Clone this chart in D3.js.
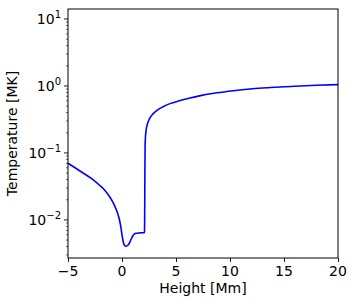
<!DOCTYPE html>
<html lang="en">
<head>
	<meta charset="UTF-8">
	<title>Temperature vs Height</title>
	<script src="https://cdnjs.cloudflare.com/ajax/libs/d3/7.8.5/d3.min.js"></script>
	<style>
		body { margin: 0; background: #fff; }
		svg { font-family: "DejaVu Sans", sans-serif; }
		.tick-label { font-size: 14px; fill: #000; }
		.axis-label { font-size: 14px; fill: #000; }
	</style>
</head>
<body>
	<div id="container"></div>
	<script>
		// height [Mm] and temperature [MK]
		var heights = [-5, -3.889, -2.778, -2.102, -1.62, -1.176, -0.833, -0.556, -0.37, -0.231, -0.093, 0.0, 0.12, 0.231, 0.37, 0.509, 0.676, 0.833, 0.991, 1.157, 1.296, 1.667, 2.065, 2.08, 2.1, 2.12, 2.14, 2.17, 2.22, 2.29, 2.4, 2.59, 2.85, 3.3, 3.8, 4.44, 5.3, 6.3, 7.5, 8.77, 10.3, 11.85, 13.4, 14.94, 16.5, 18.03, 20];
		var temps = [0.0701, 0.0538, 0.0409, 0.0332, 0.028, 0.0226, 0.0183, 0.01457, 0.01206, 0.00998, 0.00758, 0.00596, 0.00468, 0.00418, 0.00405, 0.00415, 0.00448, 0.0051, 0.00576, 0.00617, 0.00632, 0.0064, 0.00645, 0.0066, 0.012, 0.05, 0.13, 0.17, 0.21, 0.247, 0.285, 0.335, 0.38, 0.44, 0.49, 0.545, 0.6, 0.66, 0.73, 0.79, 0.85, 0.902, 0.94, 0.976, 1.0, 1.024, 1.047];

		var xTicks = [-5, 0, 5, 10, 15, 20];
		var yTicks = [1e-2, 1e-1, 1e0, 1e1];
		var yTickExp = ["\u22122", "\u22121", "0", "1"];

		var width = 354, height = 300;
		var margin = { left: 68, right: 16, top: 9, bottom: 42 };

		var svg = d3.select("#container").append("svg")
			.attr("width", width)
			.attr("height", height);

		var xscale = d3.scaleLinear()
			.domain([-5, 20])
			.range([margin.left, width - margin.right]);

		var yscale = d3.scaleLog()
			.domain([2.7e-3, 14.1])
			.range([height - margin.bottom, margin.top]);

		var data = d3.zip(heights, temps);

		var line = d3.line()
			.x(function(d) { return xscale(d[0]); })
			.y(function(d) { return yscale(d[1]); })
			.curve(d3.curveMonotoneX);

		svg.append("path")
			.datum(data)
			.attr("fill", "none")
			.attr("stroke", "#0000ff")
			.attr("stroke-width", 1.6)
			.attr("d", line);

		// x axis
		var xAxis = svg.append("g")
			.attr("transform", "translate(0," + (height - margin.bottom) + ")")
			.call(d3.axisBottom(xscale).tickValues(xTicks).tickSize(4).tickFormat(""));
		xAxis.select(".domain").remove();
		xAxis.selectAll("line").attr("stroke", "#000").attr("stroke-width", 0.9);

		svg.selectAll(".xlab").data(xTicks).enter().append("text")
			.attr("class", "tick-label")
			.attr("x", function(d) { return xscale(d); })
			.attr("y", height - margin.bottom + 18)
			.attr("text-anchor", "middle")
			.text(function(d) { return d < 0 ? "\u2212" + Math.abs(d) : d; });

		// y axis, major and minor ticks
		var minor = [];
		for (var e = -3; e <= 1; e++) {
			for (var m = 2; m <= 9; m++) {
				var v = m * Math.pow(10, e);
				if (v >= 2.7e-3 && v <= 14.1) minor.push(v);
			}
		}
		svg.selectAll(".ymin").data(minor).enter().append("line")
			.attr("x1", margin.left).attr("x2", margin.left - 2)
			.attr("y1", function(d) { return yscale(d); })
			.attr("y2", function(d) { return yscale(d); })
			.attr("stroke", "#000").attr("stroke-width", 0.6);
		svg.selectAll(".ymaj").data(yTicks).enter().append("line")
			.attr("x1", margin.left).attr("x2", margin.left - 4)
			.attr("y1", function(d) { return yscale(d); })
			.attr("y2", function(d) { return yscale(d); })
			.attr("stroke", "#000").attr("stroke-width", 0.9);

		var ylab = svg.selectAll(".ylab").data(yTicks).enter().append("text")
			.attr("class", "tick-label")
			.attr("x", margin.left - 7)
			.attr("y", function(d) { return yscale(d) + 5; })
			.attr("text-anchor", "end");
		ylab.append("tspan").text("10");
		ylab.append("tspan")
			.attr("dy", -6)
			.style("font-size", "10px")
			.text(function(d, i) { return yTickExp[i]; });

		// frame
		svg.append("rect")
			.attr("x", margin.left)
			.attr("y", margin.top)
			.attr("width", width - margin.left - margin.right)
			.attr("height", height - margin.top - margin.bottom)
			.attr("fill", "none")
			.attr("stroke", "#000")
			.attr("stroke-width", 1);

		svg.append("text")
			.attr("class", "axis-label")
			.attr("x", (margin.left + width - margin.right) / 2)
			.attr("y", 293)
			.attr("text-anchor", "middle")
			.text("Height [Mm]");

		svg.append("text")
			.attr("class", "axis-label")
			.attr("transform", "translate(17," + ((margin.top + height - margin.bottom) / 2) + ") rotate(-90)")
			.attr("text-anchor", "middle")
			.text("Temperature [MK]");
	</script>
</body>
</html>
